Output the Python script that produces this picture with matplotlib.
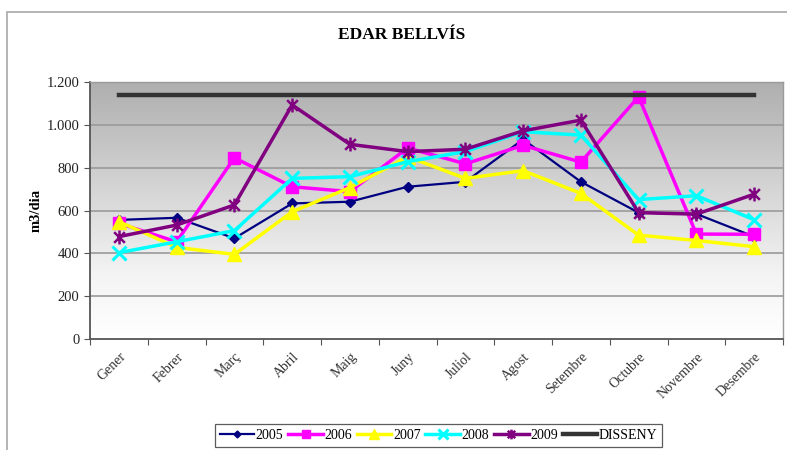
import numpy as np
import matplotlib
matplotlib.use("Agg")
import matplotlib.pyplot as plt
from matplotlib.path import Path
from matplotlib.patches import Rectangle
from matplotlib.ticker import FixedLocator, FuncFormatter
from matplotlib.colors import LinearSegmentedColormap

plt.rcParams['font.family'] = ['Liberation Serif', 'DejaVu Serif']

months = ["Gener", "Febrer", "Març", "Abril", "Maig", "Juny", "Juliol",
          "Agost", "Setembre", "Octubre", "Novembre", "Desembre"]
y2005 = [556, 566, 470, 633, 641, 711, 734, 932, 734, 590, 584, 478]
y2006 = [540, 454, 846, 711, 688, 892, 818, 904, 826, 1131, 490, 489]
y2007 = [548, 428, 395, 594, 707, 851, 750, 786, 680, 485, 460, 431]
y2008 = [403, 454, 506, 750, 758, 828, 875, 968, 952, 651, 669, 557]
y2009 = [478, 532, 626, 1093, 909, 875, 886, 972, 1022, 590, 583, 676]
disseny = 1140
yticks = [0, 200, 400, 600, 800, 1000, 1200]

fig = plt.figure(figsize=(7.87, 4.5), dpi=100)
fig.patch.set_facecolor("white")

# outer chart frame
fig.patches.append(Rectangle((7 / 787, -0.05), 1.0, (450 - 12) / 450 + 0.05,
                             transform=fig.transFigure, fill=False,
                             edgecolor="#a8a8a8", linewidth=1.2))

ax = fig.add_axes([90 / 787, (450 - 339) / 450, (783 - 90) / 787, (339 - 82) / 450])

# grey-to-white gradient background
cmap = LinearSegmentedColormap.from_list(
    "bg", [(0.0, "#ffffff"), (0.25, "#f4f4f4"), (0.55, "#d8d8d8"), (1.0, "#afafaf")])
grad = np.linspace(0, 1, 256).reshape(-1, 1)
ax.imshow(grad, extent=[0, 1, 0, 1], transform=ax.transAxes, origin="lower",
          aspect="auto", cmap=cmap, zorder=0)

x = np.arange(len(months)) + 0.5

for v in yticks[1:]:
    ax.axhline(v, color="#9a9a9a", linewidth=1.2, zorder=1)

# asterisk-like star: an x with a vertical bar
star = Path([(-1, -1), (1, 1), (-1, 1), (1, -1), (0, -1.3), (0, 1.3)],
            [Path.MOVETO, Path.LINETO, Path.MOVETO, Path.LINETO, Path.MOVETO, Path.LINETO])

ax.plot(x, y2005, color="#000080", marker="D", markersize=5, linewidth=1.6,
        label="2005", zorder=3)
ax.plot(x, y2006, color="#ff00ff", marker="s", markersize=9, linewidth=2.5,
        label="2006", zorder=3)
ax.plot(x, y2007, color="#ffff00", marker="^", markersize=10, linewidth=2.5,
        label="2007", zorder=3)
ax.plot(x, y2008, color="#00ffff", marker="x", markersize=10, markeredgewidth=2.2,
        linewidth=2.5, label="2008", zorder=3)
ax.plot(x, y2009, color="#800080", marker=star, markersize=10, markeredgewidth=1.8,
        linewidth=2.5, label="2009", zorder=4)
ax.plot([x[0], x[-1]], [disseny, disseny], color="#333333", linewidth=3.2,
        label="DISSENY", zorder=3)

ax.set_xlim(0, len(months))
ax.set_ylim(0, 1200)

ax.xaxis.set_major_locator(FixedLocator(np.arange(len(months) + 1)))
ax.xaxis.set_major_formatter(FuncFormatter(lambda v, p: ""))
ax.xaxis.set_minor_locator(FixedLocator(x))
ax.set_xticklabels(months, minor=True, rotation=45, ha="right", va="top",
                   rotation_mode="anchor", fontsize=10, color="#333333")
ax.tick_params(axis="x", which="minor", length=0, pad=8)
ax.tick_params(axis="x", which="major", length=4, color="#555555")

ax.set_yticks(yticks)
ax.yaxis.set_major_formatter(FuncFormatter(lambda v, p: f"{int(v):,}".replace(",", ".")))
ax.tick_params(axis="y", length=4, color="#555555", labelsize=10.5, labelcolor="#222222")

for side in ["left", "bottom"]:
    ax.spines[side].set_color("#555555")
    ax.spines[side].set_linewidth(1.3)
for side in ["top", "right"]:
    ax.spines[side].set_color("#9a9a9a")
    ax.spines[side].set_linewidth(1.0)

ax.set_ylabel("m3/dia", fontsize=10.5, fontweight="bold", labelpad=3)
fig.text(0.51, (450 - 35) / 450, "EDAR BELLVÍS", ha="center", va="center",
         fontsize=12.5, fontweight="bold")

leg = fig.legend(loc="upper center", bbox_to_anchor=(438.5 / 787, (450 - 424) / 450),
                 ncol=6, frameon=True, fontsize=10, handlelength=2.5,
                 handletextpad=0.1, columnspacing=0.35, borderpad=0.35,
                 borderaxespad=0, fancybox=False, markerscale=0.7)
leg.get_frame().set_edgecolor("#333333")
leg.get_frame().set_linewidth(0.9)

fig.savefig("out.png", dpi=100, facecolor="white")
